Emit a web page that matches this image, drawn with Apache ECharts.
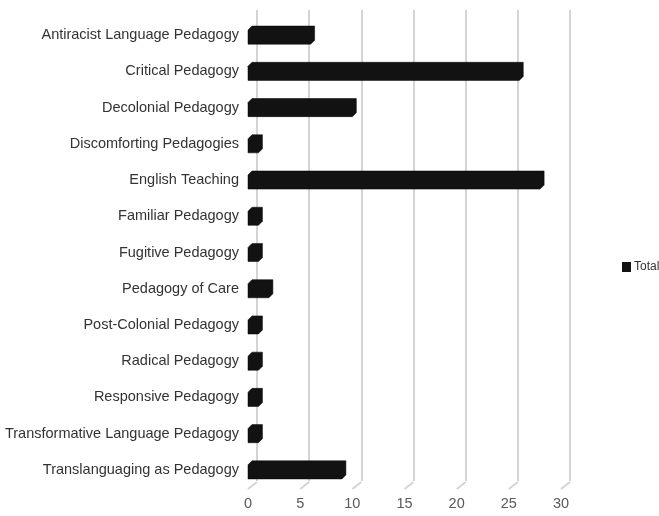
<!DOCTYPE html>
<html>
<head>
<meta charset="utf-8">
<script src="https://cdn.jsdelivr.net/npm/echarts@6/dist/echarts.min.js"></script>
<style>
  html, body { margin: 0; padding: 0; background: #fff; }
  #chart { width: 659px; height: 516px; }
</style>
</head>
<body>
<div id="chart"></div>
<script>
// categories, top to bottom
const categories = [
  'Antiracist Language Pedagogy',
  'Critical Pedagogy',
  'Decolonial Pedagogy',
  'Discomforting Pedagogies',
  'English Teaching',
  'Familiar Pedagogy',
  'Fugitive Pedagogy',
  'Pedagogy of Care',
  'Post-Colonial Pedagogy',
  'Radical Pedagogy',
  'Responsive Pedagogy',
  'Transformative Language Pedagogy',
  'Translanguaging as Pedagogy'
];
const totals = [6, 26, 10, 1, 28, 1, 1, 2, 1, 1, 1, 1, 9];
const xTicks = [0, 5, 10, 15, 20, 25, 30];

const chart = echarts.init(document.getElementById('chart'));

const depth = 4;       // bevel of the 3D bars
const wallDx = 9;      // back wall offset (x)
const wallDy = 7;      // back wall offset (y)

const option = {
  animation: false,
  textStyle: { fontFamily: 'Liberation Sans, Arial, sans-serif' },
  legend: {
    data: ['Total'],
    left: 617,
    top: 256,
    orient: 'vertical',
    icon: 'rect',
    itemWidth: 9,
    itemHeight: 10,
    itemGap: 4,
    textStyle: { color: '#333', fontSize: 12, padding: [0, 0, 0, -2] }
  },
  grid: [
    // front plane: bars + labels
    { left: 248, right: 98, top: 17, bottom: 28 },
    // back wall: gridlines
    { left: 248 + wallDx, right: 98 - wallDx, top: 10, bottom: 28 + wallDy }
  ],
  xAxis: [
    {
      gridIndex: 0, type: 'value', min: 0, max: 30, interval: 5,
      axisLine: { show: false }, axisTick: { show: false },
      splitLine: { show: false },
      axisLabel: { color: '#595959', fontSize: 14.5, margin: 8 }
    },
    {
      gridIndex: 1, type: 'value', min: 0, max: 30, interval: 5,
      axisLine: { show: false }, axisTick: { show: false },
      axisLabel: { show: false },
      splitLine: { show: true, lineStyle: { color: '#d4d4d4', width: 2 } }
    }
  ],
  yAxis: [
    {
      gridIndex: 0, type: 'category', data: categories, inverse: true,
      axisLine: { show: false }, axisTick: { show: false },
      axisLabel: { color: '#333', fontSize: 14.5, margin: 9 }
    },
    {
      gridIndex: 1, type: 'category', data: categories, inverse: true,
      show: false
    }
  ],
  series: [
    {
      // small floor diagonals joining the back gridlines to the tick labels
      type: 'custom',
      xAxisIndex: 0, yAxisIndex: 0,
      silent: true,
      data: xTicks.map(v => [v, 0]),
      renderItem(params, api) {
        const x = api.coord([api.value(0), 0])[0];
        const cs = params.coordSys;
        const yb = cs.y + cs.height;
        return {
          type: 'line',
          shape: { x1: x + wallDx, y1: yb - wallDy + 1, x2: x, y2: yb + 1 },
          style: { stroke: '#d4d4d4', lineWidth: 2 }
        };
      }
    },
    {
      name: 'Total',
      type: 'custom',
      xAxisIndex: 0, yAxisIndex: 0,
      itemStyle: { color: '#121212' },
      data: totals.map((v, i) => [v, i]),
      encode: { x: 0, y: 1 },
      renderItem(params, api) {
        const p0 = api.coord([0, api.value(1)]);
        const p1 = api.coord([api.value(0), api.value(1)]);
        const h = api.size([0, 1])[1] * 0.5;
        const x0 = p0[0], x1 = p1[0];
        const y0 = p0[1] - h / 2, y1 = p0[1] + h / 2;
        return {
          type: 'polygon',
          shape: {
            points: [
              [x0, y0 + depth], [x0 + depth, y0], [x1 + depth, y0],
              [x1 + depth, y1 - depth], [x1, y1], [x0, y1]
            ]
          },
          style: { fill: '#121212', stroke: '#000', lineWidth: 0.5 }
        };
      }
    }
  ]
};

chart.setOption(option);
</script>
</body>
</html>
